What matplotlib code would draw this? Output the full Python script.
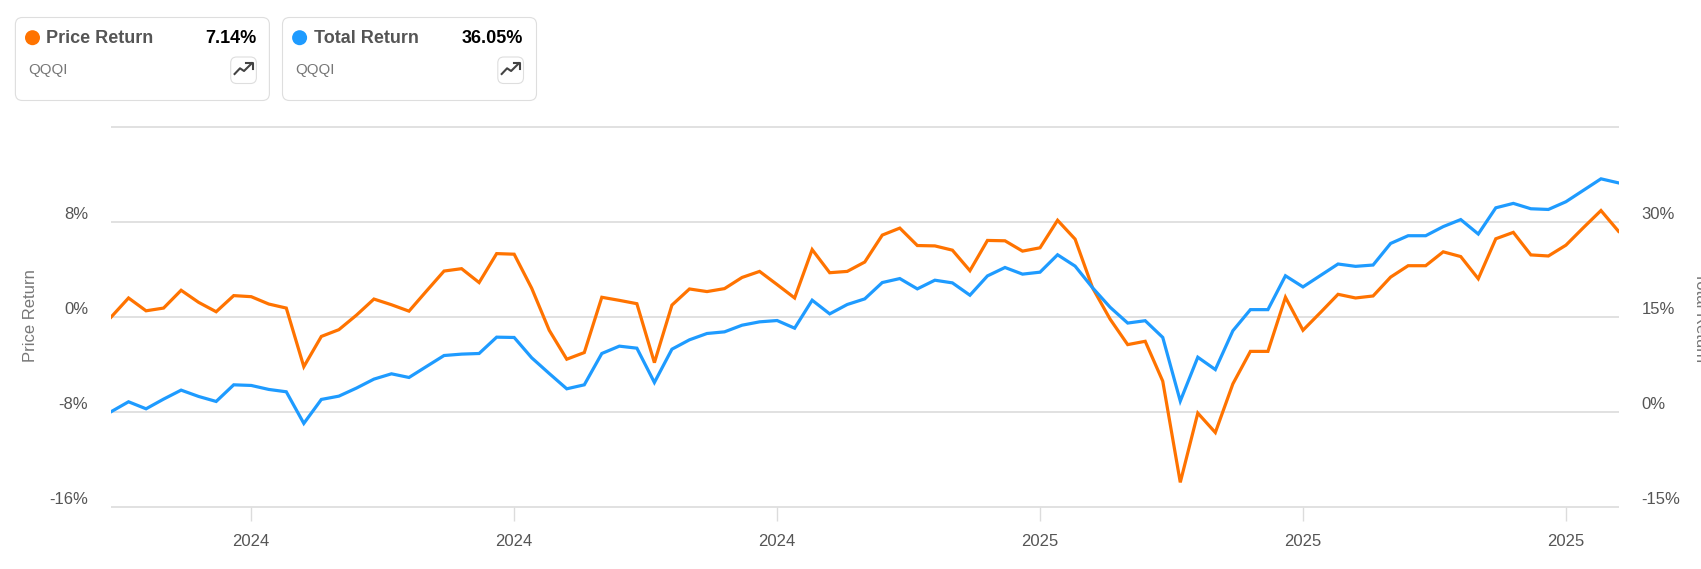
import matplotlib
matplotlib.use("Agg")
import matplotlib.pyplot as plt
from matplotlib.patches import FancyBboxPatch, Circle

plt.rcParams['font.family'] = ['Liberation Sans', 'DejaVu Sans']

price_return = [
    -0.03, 1.59, 0.51, 0.74, 2.24, 1.22, 0.43, 1.79, 1.70, 1.08,
    0.74, -4.20, -1.65, -1.08, 0.14, 1.50, 1.02, 0.48, 2.18, 3.86,
    4.06, 2.89, 5.33, 5.28, 2.41, -1.13, -3.57, -3.01, 1.65, 1.39,
    1.11, -3.86, 0.99, 2.35, 2.13, 2.38, 3.32, 3.83, 2.72, 1.59,
    5.67, 3.72, 3.83, 4.62, 6.89, 7.48, 6.01, 5.98, 5.62, 3.89,
    6.44, 6.41, 5.54, 5.82, 8.14, 6.55, 2.43, -0.20, -2.34, -2.06,
    -5.42, -13.95, -8.11, -9.75, -5.65, -2.91, -2.91, 1.65, -1.13, 0.37,
    1.90, 1.59, 1.76, 3.35, 4.31, 4.31, 5.48, 5.08, 3.21, 6.58,
    7.12, 5.22, 5.13, 6.04, 7.52, 8.96, 7.21,
]
total_return = [
    0.0, 1.58, 0.47, 2.0, 3.42, 2.42, 1.63, 4.26, 4.16, 3.53,
    3.16, -1.84, 1.95, 2.47, 3.74, 5.16, 6.0, 5.42, 7.16, 8.89,
    9.11, 9.21, 11.79, 11.74, 8.53, 6.05, 3.63, 4.26, 9.21, 10.37,
    10.05, 4.63, 9.89, 11.37, 12.37, 12.63, 13.68, 14.21, 14.42, 13.21,
    17.63, 15.47, 16.95, 17.84, 20.42, 21.05, 19.42, 20.79, 20.37, 18.42,
    21.47, 22.8, 21.75, 22.06, 24.81, 23.02, 19.58, 16.51, 14.02, 14.39,
    11.75, 1.69, 8.62, 6.67, 12.8, 16.14, 16.14, 21.49, 19.73, 21.54,
    23.35, 22.98, 23.19, 26.6, 27.82, 27.82, 29.26, 30.37, 28.09, 32.23,
    32.93, 32.08, 31.97, 33.19, 35.0, 36.81, 36.17,
]
x_tick_positions = [8, 23, 38, 53, 68, 83]
x_tick_labels = ['2024', '2024', '2024', '2025', '2025', '2025']
left_ticks = [-16, -8, 0, 8, 16]
left_labels = ['-16%', '-8%', '0%', '8%', '']
right_ticks = [-15, 0, 15, 30, 45]
right_labels = ['-15%', '0%', '15%', '30%', '']
cards = [('Price Return', '7.14%', 'QQQI', '#ff7300'),
         ('Total Return', '36.05%', 'QQQI', '#1e9bff')]

W, H = 1701, 569
fig = plt.figure(figsize=(W / 100, H / 100), dpi=100, facecolor='white')
L, R, T, B = 111, 1618.5, 127, 506.7
ax = fig.add_axes([L / W, 1 - B / H, (R - L) / W, (B - T) / H])
xs = list(range(len(price_return)))
TXT = '#555555'
GRID = '#dcdcdc'

ax.plot(xs, price_return, color='#ff7300', lw=2.3, solid_joinstyle='miter', zorder=3)
ax.set_xlim(0, len(xs) - 1)
ax.set_ylim(-16, 16)
ax.set_yticks(left_ticks, left_labels)
ax.set_xticks(x_tick_positions, x_tick_labels)
ax.grid(axis='y', color=GRID, lw=1.2, zorder=0, clip_on=False, solid_capstyle='butt')
ax.set_axisbelow(True)
ax.tick_params(axis='y', length=0, pad=16.5, labelsize=12, labelcolor=TXT)
ax.tick_params(axis='x', length=10, width=1.0, color=GRID, pad=10, labelsize=12, labelcolor=TXT)
for t in ax.get_yticklabels():
    t.set_verticalalignment('bottom')
for s in ax.spines.values():
    s.set_visible(False)

ax2 = ax.twinx()
ax2.plot(xs, total_return, color='#1e9bff', lw=2.3, solid_joinstyle='miter', zorder=3)
ax2.set_ylim(-15, 45)
ax2.set_yticks(right_ticks, right_labels)
ax2.tick_params(axis='y', length=0, pad=16.5, labelsize=12, labelcolor=TXT)
for t in ax2.get_yticklabels():
    t.set_verticalalignment('bottom')
for s in ax2.spines.values():
    s.set_visible(False)

ov = fig.add_axes([0, 0, 1, 1], facecolor='none')
ov.set_xlim(0, W)
ov.set_ylim(H, 0)
ov.axis('off')

ov.text(30, 316, 'Price Return', rotation=90, ha='center', va='center', fontsize=12, color='#777777')
ov.text(1700, 317, 'Total Return', rotation=270, ha='center', va='center', fontsize=12, color='#777777')

for (name, val, tick, col), cx in zip(cards, (15.4, 282.5)):
    ov.add_patch(FancyBboxPatch((cx + 7, 17.5 + 7), 254 - 14, 83 - 14,
                                boxstyle='round,pad=7,rounding_size=7',
                                fc='white', ec='#dedede', lw=0.8))
    ov.add_patch(Circle((cx + 17.1, 37.7), 7.5, fc=col, ec='none'))
    ov.text(cx + 31, 38.7, name, ha='left', va='center', fontsize=13, fontweight='bold', color='#555555')
    ov.text(cx + 240.6, 38.7, val, ha='right', va='center', fontsize=13, fontweight='bold', color='black')
    ov.text(cx + 12.5, 70, tick, ha='left', va='center', fontsize=10.8, color='#777777')
    ov.add_patch(FancyBboxPatch((cx + 215.3 + 6, 57 + 6), 25.7 - 12, 26.5 - 12,
                                boxstyle='round,pad=6,rounding_size=6',
                                fc='white', ec='#dedede', lw=0.8))
    ov.plot([cx + 219.2, cx + 224.6, cx + 228.6, cx + 236.4],
            [74, 68.3, 71, 63.3], color='#444444', lw=1.5)
    ov.plot([cx + 231, cx + 237.4, cx + 237.4],
            [63, 63, 68.5], color='#444444', lw=1.5)

fig.savefig('out.png', dpi=100, facecolor='white')
